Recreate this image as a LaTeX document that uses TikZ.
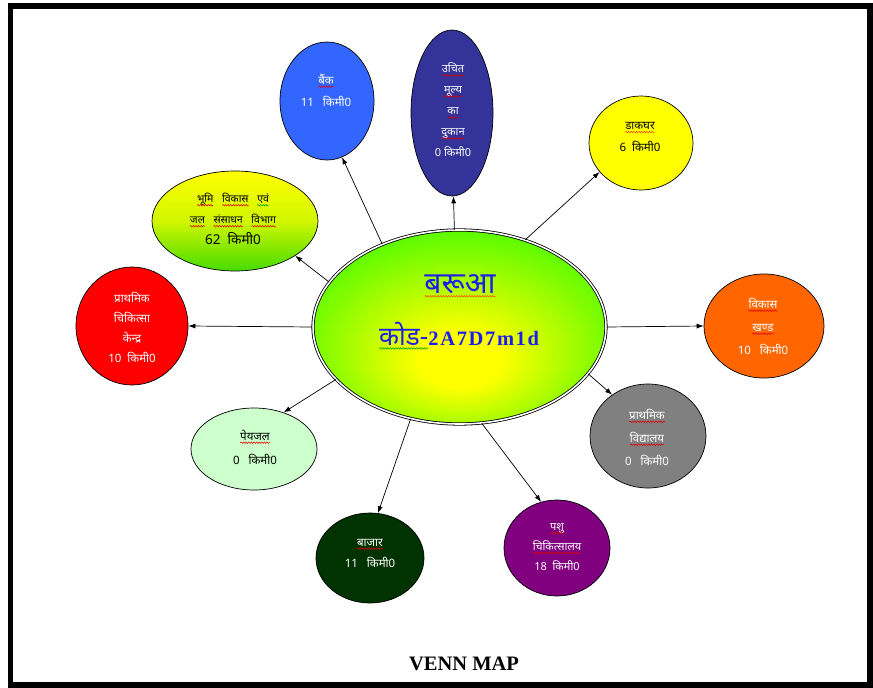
\documentclass[tikz,border=0pt]{standalone}
\usepackage{fontspec}
\usetikzlibrary{shapes.geometric,arrows.meta,decorations.pathmorphing}
\setmainfont{Liberation Serif}
\newfontfamily\deva[Script=Devanagari]{Noto Sans}
\newfontfamily\codeserif[LetterSpace=8]{Liberation Serif}

\definecolor{hubgreen}{RGB}{40,250,0}
\definecolor{hubtext}{RGB}{30,30,235}
\definecolor{bankblue}{RGB}{51,102,255}
\definecolor{shopnavy}{RGB}{51,51,153}
\definecolor{postyellow}{RGB}{255,255,0}
\definecolor{bhumigreen}{RGB}{70,220,0}
\definecolor{clinicred}{RGB}{255,0,0}
\definecolor{blockorange}{RGB}{255,102,0}
\definecolor{schoolgray}{RGB}{128,128,128}
\definecolor{waterpale}{RGB}{204,255,204}
\definecolor{marketgreen}{RGB}{0,51,0}
\definecolor{vetpurple}{RGB}{128,0,128}
\definecolor{wavered}{RGB}{225,0,0}
\definecolor{waveorange}{RGB}{255,70,0}
\definecolor{wavegreen}{RGB}{0,165,0}

\pgfdeclareradialshading{hubglow}{\pgfpoint{0bp}{-10bp}}{%
  color(0bp)=(yellow); color(7bp)=(yellow); color(36bp)=(hubgreen); color(50bp)=(hubgreen)}

% word with a wavy proof-reading underline
\newcommand\wavy[2][wavered]{\tikz[baseline=(w.base),x=1cm,y=1cm]{%
  \node[inner sep=0pt,outer sep=0pt,shape=rectangle,draw=none,fill=none] (w) {#2};
  \draw[draw=#1,line width=0.5pt,decorate,decoration={snake,amplitude=0.8pt,segment length=2.6pt}]
    ([yshift=-2.6pt]w.base west) -- ([yshift=-2.6pt]w.base east);}}

\tikzset{
  sat/.style={ellipse,draw=black,line width=0.7pt,inner sep=0pt},
  lbl/.style={align=center,inner sep=0pt,font=\deva\fontsize{11.5}{22}\selectfont},
  link/.style={draw=black,line width=0.7pt,-{Latex[length=7pt,width=5pt]}},
}

\begin{document}
\begin{tikzpicture}[x=1pt,y=-1pt]
\useasboundingbox (0,0) rectangle (873,688);
% outer frame
\draw[line width=5.5pt] (10.3,6.2) rectangle (870,685);

% centre village
\node[ellipse,inner sep=0pt,minimum width=293pt,minimum height=194pt,
      shade,shading=hubglow,draw=black,line width=0.8pt,double=white,double distance=1.6pt]
      (hub) at (459.5,327) {};
\node[font=\deva\bfseries\fontsize{30}{34}\selectfont,text=hubtext,inner sep=0pt] (hubname) at (460,286)
  {\wavy[waveorange]{बरूआ}};
\node[text=hubtext,inner sep=0pt] (hubcode) at (459,336)
  {{\deva\bfseries\fontsize{26}{30}\selectfont\wavy[wavegreen]{कोड-}}{\codeserif\bfseries\fontsize{20.5}{24}\selectfont 2A7D7m1d}};

% facilities
\node[sat,fill=bankblue,minimum width=94pt,minimum height=118pt] (bank) at (327,101) {};
\node[lbl,text=white] (bankt) at (326,90) {\wavy{बैंक}\\11~~~किमी0};

\node[sat,fill=shopnavy,minimum width=82pt,minimum height=166pt] (shop) at (452,113) {};
\node[lbl,text=white,font=\deva\fontsize{11}{21}\selectfont] (shopt) at (453,110)
  {\wavy{उचित}\\\wavy{मूल्य}\\\wavy{का}\\\wavy{दुकान}\\0 किमी0};

\node[sat,fill=postyellow,minimum width=104pt,minimum height=94pt] (post) at (641,143) {};
\node[lbl,text=black] (postt) at (640,137) {\wavy[waveorange]{डाकघर}\\6~~किमी0};

\node[sat,top color=postyellow,bottom color=bhumigreen,middle color=postyellow!75!bhumigreen,
      minimum width=166pt,minimum height=100pt] (bhumi) at (235,221) {};
\node[lbl,text=black,font=\deva\fontsize{10.5}{21}\selectfont] (bhumit) at (233,219)
  {\wavy{भूमि}~~~\wavy{विकास}~~~\wavy[wavegreen]{एवं}\\\wavy{जल}~~~\wavy{संसाधन}~~~\wavy{विभाग}\\{\fontsize{13.5}{21}\selectfont 62~~किमी0}};

\node[sat,fill=clinicred,minimum width=112pt,minimum height=118pt] (clinic) at (132,326) {};
\node[lbl,text=white,font=\deva\fontsize{11.5}{20}\selectfont] (clinict) at (132,327)
  {प्राथमिक\\चिकित्सा\\केन्द्र\\10~~किमी0};

\node[sat,fill=blockorange,minimum width=120pt,minimum height=104pt] (block) at (764,326) {};
\node[lbl,text=white,font=\deva\fontsize{11.5}{23}\selectfont] (blockt) at (763,326)
  {\wavy{विकास}\\\wavy{खण्ड}\\10~~~किमी0};

\node[sat,fill=schoolgray,minimum width=116pt,minimum height=104pt] (school) at (648,436) {};
\node[lbl,text=white,font=\deva\fontsize{11.5}{23}\selectfont] (schoolt) at (647,437)
  {\wavy{प्राथमिक}\\\wavy{विद्यालय}\\0~~~किमी0};

\node[sat,fill=waterpale,minimum width=126pt,minimum height=82pt] (water) at (254,449) {};
\node[lbl,text=black,font=\deva\fontsize{11.5}{24}\selectfont] (watert) at (255,447)
  {\wavy{पेयजल}\\0~~~किमी0};

\node[sat,fill=marketgreen,minimum width=108pt,minimum height=90pt] (market) at (370,558) {};
\node[lbl,text=white,font=\deva\fontsize{11.5}{21}\selectfont] (markett) at (370,553)
  {\wavy{बाजार}\\11~~~किमी0};

\node[sat,fill=vetpurple,minimum width=106pt,minimum height=96pt] (vet) at (557,548) {};
\node[lbl,text=white,font=\deva\fontsize{11}{20}\selectfont] (vett) at (557,547)
  {\wavy{पशु}\\\wavy{चिकित्सालय}\\18~~किमी0};

% links from the village to each facility
\draw[link] (hub.133.5) -- (bank.-75);
\draw[link] (hub.93.7) -- (shop.-89);
\draw[link] (hub.53.8) -- (post.215.5);
\draw[link] (hub.161.6) -- (bhumi.-30.7);
\draw[link] (hub.180) -- (clinic.0);
\draw[link] (hub.0) -- (block.180);
\draw[link] (hub.-20) -- (school.131.4);
\draw[link] (hub.203.2) -- (water.51);
\draw[link] (hub.-118.5) -- (market.80);
\draw[link] (hub.-77.8) -- (vet.109.5);

% caption
\node[font=\bfseries\fontsize{20.5}{24}\selectfont] (caption) at (464,664) {VENN MAP};
\end{tikzpicture}
\end{document}
